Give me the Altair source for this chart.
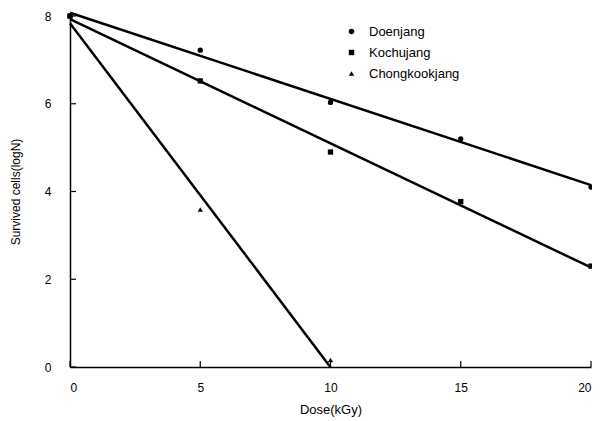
import altair as alt
import pandas as pd

# Data
doses_d = [0, 5, 10, 15, 20]
doenjang = [8.0, 7.22, 6.03, 5.2, 4.1]
doses_k = [0, 5, 10, 15, 20]
kochujang = [8.0, 6.52, 4.9, 3.77, 2.3]
doses_c = [0, 5, 10]
chongkookjang = [8.0, 3.59, 0.16]

series_names = ["Doenjang", "Kochujang", "Chongkookjang"]
shapes = ["circle", "square", "triangle-up"]

x_ticks = [0, 5, 10, 15, 20]
y_ticks = [0, 2, 4, 6, 8]

rows = []
for name, xs, ys in [("Doenjang", doses_d, doenjang),
                     ("Kochujang", doses_k, kochujang),
                     ("Chongkookjang", doses_c, chongkookjang)]:
    for x, y in zip(xs, ys):
        rows.append({"dose": x, "value": y, "series": name})
df = pd.DataFrame(rows)

W, H = 521, 351
FONT = "Liberation Sans"

x_scale = alt.Scale(domain=[0, 20], nice=False)
y_scale = alt.Scale(domain=[0, 8], nice=False)

x_enc = alt.X("dose:Q", scale=x_scale,
              axis=alt.Axis(title="Dose(kGy)", values=x_ticks, ticks=False, tickSize=0,
                            labelPadding=15, titleY=42, titleBaseline="middle",
                            titleFontSize=13, titleFontWeight="normal"))
y_enc = alt.Y("value:Q", scale=y_scale,
              axis=alt.Axis(title="Survived cells(logN)", values=y_ticks, ticks=False, tickSize=0,
                            labelPadding=19, titleX=-55, titleY=H / 2, titleAngle=-90,
                            titleAlign="center", titleBaseline="middle",
                            titleFontSize=12, titleFontWeight="normal"))

points = alt.Chart(df).mark_point(filled=True, color="black", opacity=1, size=28).encode(
    x=x_enc,
    y=y_enc,
    shape=alt.Shape("series:N",
                    scale=alt.Scale(domain=series_names, range=shapes),
                    legend=alt.Legend(title=None, orient="none", legendX=275, legendY=9,
                                      labelFont=FONT, labelFontSize=13, labelColor="black",
                                      symbolSize=30, symbolFillColor="black",
                                      symbolStrokeColor="black", rowPadding=7,
                                      labelOffset=11)),
)

lines = alt.Chart(df).transform_regression(
    "dose", "value", groupby=["series"]
).mark_line(color="black", strokeWidth=2.5).encode(
    x=alt.X("dose:Q", scale=x_scale),
    y=alt.Y("value:Q", scale=y_scale),
    detail="series:N",
)

xt = alt.Chart(pd.DataFrame({"t": x_ticks})).mark_rule(color="black", strokeWidth=1.2).encode(
    x=alt.X("t:Q", scale=x_scale),
    y=alt.value(H), y2=alt.value(H - 6),
)
yt = alt.Chart(pd.DataFrame({"t": y_ticks})).mark_rule(color="black", strokeWidth=1.2).encode(
    y=alt.Y("t:Q", scale=y_scale),
    x=alt.value(0), x2=alt.value(6),
)

chart = alt.layer(lines, points, xt, yt).properties(
    width=W, height=H,
    autosize=alt.AutoSizeParams(type="none"),
    padding={"left": 62, "top": 8, "right": 1, "bottom": 50},
).configure_view(stroke=None).configure_axis(
    grid=False, domainColor="black", domainWidth=1.5,
    labelFont=FONT, labelFontSize=12, labelColor="black",
    titleFont=FONT, titleColor="black",
)

chart.save("out.html", embed_options={"renderer": "svg", "actions": False})
